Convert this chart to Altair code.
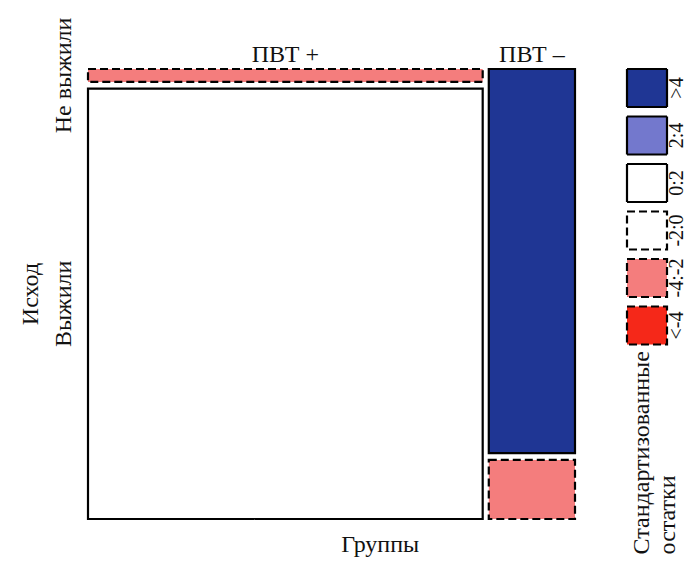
import altair as alt
import pandas as pd

# ---- data -------------------------------------------------------------
groups = ["ПВТ +", "ПВТ –"]
outcomes = ["Не выжили", "Выжили"]
counts_pvt_plus = [12, 400]
counts_pvt_minus = [78, 12]
residual_pvt_plus = ["-4:-2", "0:2"]
residual_pvt_minus = [">4", "-4:-2"]

legend_classes = [">4", "2:4", "0:2", "-2:0", "-4:-2", "<-4"]
legend_fills = ["#1f3694", "#7378cd", "#ffffff", "#ffffff", "#f47d7d", "#f52819"]
legend_dashed = [False, False, False, True, True, True]
legend_title = ["Стандартизованные", "остатки"]
x_title = "Группы"
y_title = "Исход"

class_fill = dict(zip(legend_classes, legend_fills))
class_dash = dict(zip(legend_classes, legend_dashed))

# ---- mosaic geometry (in proportion units) ---------------------------
gap_x = 0.0125
gap_y = 0.015
all_counts = [counts_pvt_plus, counts_pvt_minus]
all_resid = [residual_pvt_plus, residual_pvt_minus]
grand = sum(sum(c) for c in all_counts)

rows = []
col_centers = []
row_centers_first = []
x = 0.0
for g, cnts, res in zip(groups, all_counts, all_resid):
    w = sum(cnts) / grand * (1 - gap_x * (len(groups) - 1))
    y = 0.0
    for o, c, r in zip(outcomes, cnts, res):
        h = c / sum(cnts) * (1 - gap_y * (len(outcomes) - 1))
        rows.append(dict(group=g, outcome=o, x0=x, x1=x + w, y0=y, y1=y + h,
                         fill=class_fill[r], dashed=class_dash[r]))
        if g == groups[0]:
            row_centers_first.append(y + h / 2)
        y += h + gap_y
    col_centers.append(x + w / 2)
    x += w + gap_x
mosaic = pd.DataFrame(rows)

FONT = "Liberation Serif"
TXT = "#111111"
xs = alt.Scale(domain=[0, 1], range=[80, 567], zero=False, nice=False)
ys = alt.Scale(domain=[0, 1], range=[61, 511], zero=False, nice=False)

def rect_layer(dashed):
    return alt.Chart(mosaic).transform_filter(
        alt.datum.dashed == dashed
    ).mark_rect(
        stroke="black", strokeWidth=2.2,
        strokeDash=[8, 4] if dashed else [1, 0]
    ).encode(
        x=alt.X("x0:Q", scale=xs, axis=None), x2="x1:Q",
        y=alt.Y("y0:Q", scale=ys, axis=None), y2="y1:Q",
        fill=alt.Fill("fill:N", scale=None),
    )

col_lab = pd.DataFrame({"t": groups, "x": col_centers, "y": [-0.016] * 2})
col_text = alt.Chart(col_lab).mark_text(
    font=FONT, fontSize=24, baseline="alphabetic", align="center", color=TXT
).encode(x=alt.X("x:Q", scale=xs, axis=None), y=alt.Y("y:Q", scale=ys, axis=None), text="t:N")

row_lab = pd.DataFrame({"t": outcomes + [y_title],
                        "x": [-0.035, -0.035, -0.103],
                        "y": row_centers_first + [0.5]})
row_text = alt.Chart(row_lab).mark_text(
    font=FONT, fontSize=24, baseline="alphabetic", align="center", angle=270, color=TXT
).encode(x=alt.X("x:Q", scale=xs, axis=None), y=alt.Y("y:Q", scale=ys, axis=None), text="t:N")

xt_lab = pd.DataFrame({"t": [x_title], "x": [0.6], "y": [1.073]})
xt_text = alt.Chart(xt_lab).mark_text(
    font=FONT, fontSize=24, baseline="alphabetic", align="center", color=TXT
).encode(x=alt.X("x:Q", scale=xs, axis=None), y=alt.Y("y:Q", scale=ys, axis=None), text="t:N")

mosaic_layer = alt.layer(rect_layer(False), rect_layer(True), col_text, row_text, xt_text)

# ---- legend ---------------------------------------------------------
leg = pd.DataFrame({"cls": legend_classes, "fill": legend_fills, "dashed": legend_dashed,
                    "i": list(range(len(legend_classes)))})
leg["y0"] = leg["i"]
leg["y1"] = leg["i"] + 0.8
leg["yc"] = leg["i"] + 0.4
leg["x0"] = 0.0
leg["x1"] = 1.0
leg["xt"] = 1.26

lxs = alt.Scale(domain=[0, 1], range=[619, 659], zero=False, nice=False)
lys = alt.Scale(domain=[0, 5.8], range=[61, 336.5], zero=False, nice=False)

def leg_rect(dashed):
    return alt.Chart(leg).transform_filter(alt.datum.dashed == dashed).mark_rect(
        stroke="black", strokeWidth=2.2, strokeDash=[8, 4] if dashed else [1, 0]
    ).encode(
        x=alt.X("x0:Q", scale=lxs, axis=None), x2="x1:Q",
        y=alt.Y("y0:Q", scale=lys, axis=None), y2="y1:Q",
        fill=alt.Fill("fill:N", scale=None),
    )

leg_text = alt.Chart(leg).mark_text(
    font=FONT, fontSize=20, baseline="middle", align="center", angle=270, color=TXT
).encode(x=alt.X("xt:Q", scale=lxs, axis=None), y=alt.Y("yc:Q", scale=lys, axis=None), text="cls:N")

lt = pd.DataFrame({"t": legend_title, "x": [0.55, 1.2], "y": [10.22, 10.22]})
lt_text = alt.Chart(lt).mark_text(
    font=FONT, fontSize=24, baseline="alphabetic", align="left", angle=270, color=TXT
).encode(x=alt.X("x:Q", scale=lxs, axis=None), y=alt.Y("y:Q", scale=lys, axis=None), text="t:N")

legend_layer = alt.layer(leg_rect(False), leg_rect(True), leg_text, lt_text)

chart = alt.layer(mosaic_layer, legend_layer).resolve_scale(
    x="independent", y="independent"
).properties(
    width=681, height=549, padding=0, autosize="none"
).configure_view(stroke=None)

chart.save("out.html", embed_options={"renderer": "svg", "actions": False})
